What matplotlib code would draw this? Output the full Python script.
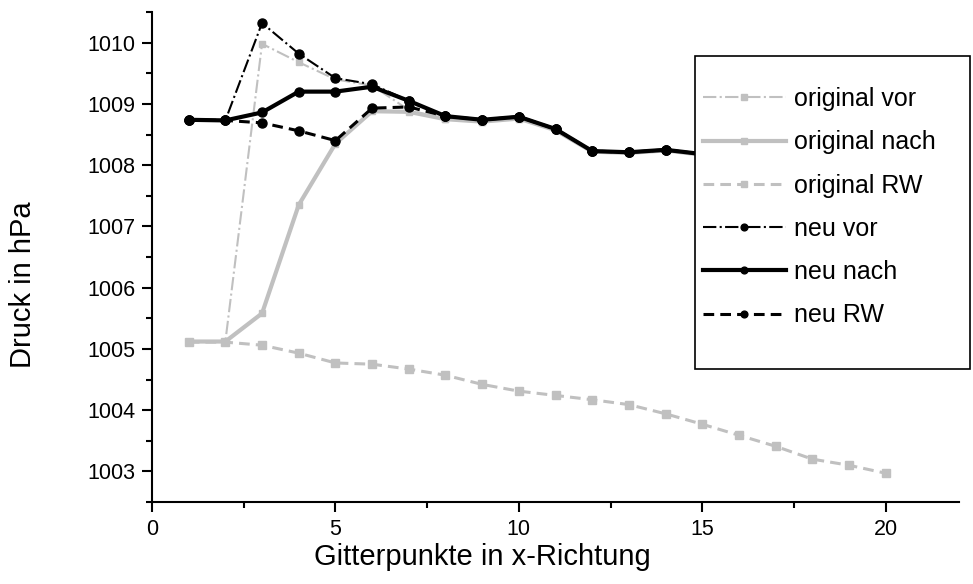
import matplotlib
matplotlib.use("Agg")
import matplotlib.pyplot as plt
from matplotlib.ticker import MultipleLocator
from matplotlib.patches import Rectangle

plt.rcParams['font.family'] = ['Liberation Sans', 'DejaVu Sans']

x = list(range(1, 21))

original_vor = [1005.12, 1005.12, 1009.98, 1009.68, 1009.40, 1009.30, 1008.90, 1008.75,
                1008.71, 1008.76, 1008.57, 1008.22, 1008.20, 1008.24, 1008.17, 1008.10,
                1008.03, 1007.93, 1007.84, 1007.78]
original_nach = [1005.12, 1005.12, 1005.58, 1007.35, 1008.35, 1008.88, 1008.87, 1008.75,
                 1008.71, 1008.76, 1008.57, 1008.22, 1008.20, 1008.24, 1008.17, 1008.10,
                 1008.03, 1007.93, 1007.84, 1007.78]
original_rw = [1005.11, 1005.11, 1005.06, 1004.93, 1004.77, 1004.75, 1004.67, 1004.57,
               1004.42, 1004.31, 1004.24, 1004.17, 1004.09, 1003.94, 1003.77, 1003.59,
               1003.41, 1003.20, 1003.10, 1002.97]
neu_vor = [1008.74, 1008.73, 1010.32, 1009.82, 1009.42, 1009.32, 1009.05, 1008.80,
           1008.74, 1008.79, 1008.59, 1008.23, 1008.21, 1008.25, 1008.18, 1008.12,
           1008.05, 1007.95, 1007.86, 1007.80]
neu_nach = [1008.74, 1008.73, 1008.86, 1009.20, 1009.20, 1009.28, 1009.05, 1008.80,
            1008.74, 1008.79, 1008.59, 1008.23, 1008.21, 1008.25, 1008.18, 1008.12,
            1008.05, 1007.95, 1007.86, 1007.80]
neu_rw = [1008.74, 1008.73, 1008.69, 1008.56, 1008.40, 1008.93, 1008.95, 1008.80,
          1008.74, 1008.79, 1008.59, 1008.23, 1008.21, 1008.25, 1008.18, 1008.12,
          1008.05, 1007.95, 1007.86, 1007.80]

grey = '#c0c0c0'
W, H = 973, 584

fig = plt.figure(figsize=(W / 100, H / 100), dpi=100)
ax = fig.add_axes([152 / W, 1 - 502 / H, (959 - 152) / W, (502 - 12) / H])

dash = (0, (3.5, 2.0))
ax.plot(x, original_vor, color=grey, lw=1.5, ls='-.', marker='s', ms=5,
        label='original vor')
ax.plot(x, original_nach, color=grey, lw=3.0, ls='-', marker='s', ms=5,
        label='original nach')
ax.plot(x, original_rw, color=grey, lw=2.2, ls=dash, marker='s', ms=6,
        label='original RW')
ax.plot(x, neu_vor, color='black', lw=1.5, ls='-.', marker='o', ms=6.5,
        label='neu vor')
ax.plot(x, neu_nach, color='black', lw=3.0, ls='-', marker='o', ms=6.5,
        label='neu nach')
ax.plot(x, neu_rw, color='black', lw=2.2, ls=dash, marker='o', ms=6.5,
        label='neu RW')

ax.set_xlim(0, 22)
ax.set_ylim(1002.5, 1010.5)
ax.xaxis.set_major_locator(MultipleLocator(5))
ax.xaxis.set_minor_locator(MultipleLocator(2.5))
ax.yaxis.set_major_locator(MultipleLocator(1))
ax.yaxis.set_minor_locator(MultipleLocator(0.5))

for side in ('top', 'right'):
    ax.spines[side].set_visible(False)
for side in ('left', 'bottom'):
    ax.spines[side].set_linewidth(1.5)

ax.tick_params(which='both', direction='out', width=1.5, labelsize=15.5)
ax.tick_params(which='major', length=7, pad=5)
ax.tick_params(which='minor', length=4)

ax.set_xlabel('Gitterpunkte in x-Richtung', fontsize=21)
ax.xaxis.set_label_coords((482 - 152) / 807, -(543 - 502) / 490)
ax.set_ylabel('Druck in hPa', fontsize=21)
ax.yaxis.set_label_coords((37 - 152) / 807, (502 - 285) / 490)

# legend frame drawn as a separate white box over the curves
box = Rectangle((695 / W, 1 - 369 / H), (970 - 695) / W, (369 - 56) / H,
                transform=fig.transFigure, facecolor='white', edgecolor='black',
                linewidth=1.2, zorder=4, clip_on=False)
ax.add_patch(box)

leg = ax.legend(loc='upper left', bbox_to_anchor=(703 / W, 1 - 87 / H),
                bbox_transform=fig.transFigure, borderaxespad=0, borderpad=0,
                fontsize=18, frameon=False, handlelength=3.3, handletextpad=0.35,
                labelspacing=0.77, markerscale=0.75)
leg.set_zorder(5)

fig.savefig('out.png', dpi=100)
